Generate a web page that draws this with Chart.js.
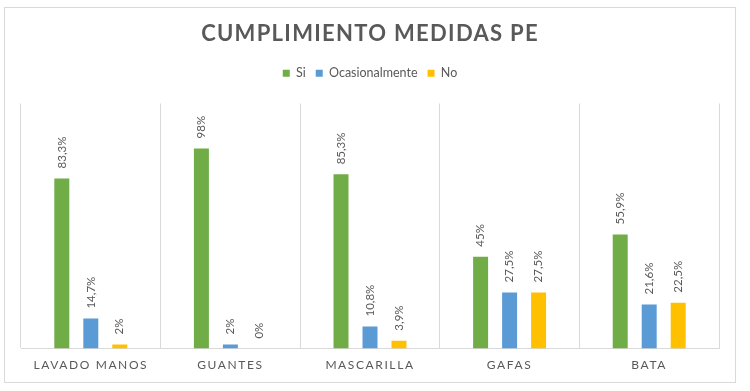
<!DOCTYPE html>
<html lang="es">
<head>
<meta charset="utf-8">
<title>Cumplimiento medidas PE</title>
<script src="https://cdn.jsdelivr.net/npm/chart.js@4/dist/chart.umd.min.js"></script>
<style>
  html, body { margin: 0; padding: 0; background: #fff; }
  #wrap { position: relative; width: 750px; height: 391px; }
</style>
</head>
<body>
<div id="wrap"><canvas id="chart" width="750" height="391"></canvas></div>
<script>
'use strict';

/* ── Data ─────────────────────────────────────────────────────────────── */
const CATEGORIES = ['LAVADO MANOS', 'GUANTES', 'MASCARILLA', 'GAFAS', 'BATA'];
const SI = [83.3, 98, 85.3, 45, 55.9];
const OCASIONAL = [14.7, 2, 10.8, 27.5, 21.6];
const NO = [2, 0, 3.9, 27.5, 22.5];
const SERIES_NAMES = ['Si', 'Ocasionalmente', 'No'];
const TITLE = 'CUMPLIMIENTO MEDIDAS PE';

const COLORS = { green: '#70AD47', blue: '#5B9BD5', gold: '#FFC000', text: '#595959', grid: '#D9D9D9' };
const FONT = 'Lato, "Open Sans", sans-serif';

const fmtPct = v => String(v).replace('.', ',') + '%';

/* ── Frame, title, value labels ───────────────────────────────────────── */
const decorPlugin = {
    id: 'decor',
    beforeDraw(chart) {
        const ctx = chart.ctx;
        ctx.letterSpacing = '0px';
        ctx.save();
        ctx.strokeStyle = COLORS.grid;
        ctx.lineWidth = 1;
        ctx.strokeRect(4.5, 7.5, 731, 375);
        ctx.restore();
    },
    afterDatasetsDraw(chart) {
        const ctx = chart.ctx;
        ctx.save();
        ctx.font = '11.5px ' + FONT;
        ctx.fillStyle = COLORS.text;
        ctx.textAlign = 'left';
        ctx.textBaseline = 'middle';
        chart.data.datasets.forEach((ds, i) => {
            chart.getDatasetMeta(i).data.forEach((bar, j) => {
                ctx.save();
                ctx.translate(bar.x, bar.y - 10);
                ctx.rotate(-Math.PI / 2);
                ctx.fillText(fmtPct(ds.data[j]), 0, 0);
                ctx.restore();
            });
        });
        ctx.restore();
        // x tick labels (z: 1) are drawn after this hook, letter-spaced
        ctx.letterSpacing = '1.6px';
    },
    afterDraw(chart) {
        const ctx = chart.ctx;
        ctx.save();
        ctx.letterSpacing = '1.3px';
        ctx.font = 'bold 22px ' + FONT;
        ctx.fillStyle = COLORS.text;
        ctx.textAlign = 'center';
        ctx.textBaseline = 'middle';
        ctx.fillText(TITLE, 370, 34);
        ctx.restore();
        ctx.letterSpacing = '0px';
    },
};

/* ── Chart ────────────────────────────────────────────────────────────── */
const barStyle = { categoryPercentage: 0.623, barPercentage: 0.517 };

new Chart(document.getElementById('chart').getContext('2d'), {
    type: 'bar',
    data: {
        labels: CATEGORIES,
        datasets: [
            { label: SERIES_NAMES[0], data: SI, backgroundColor: COLORS.green, ...barStyle },
            { label: SERIES_NAMES[1], data: OCASIONAL, backgroundColor: COLORS.blue, ...barStyle },
            { label: SERIES_NAMES[2], data: NO, backgroundColor: COLORS.gold, ...barStyle },
        ],
    },
    options: {
        responsive: false,
        animation: false,
        events: [],
        layout: { padding: { top: 57, left: 21, right: 31, bottom: 10 } },
        plugins: {
            legend: {
                position: 'top',
                labels: {
                    boxWidth: 7, boxHeight: 7, padding: 10,
                    color: COLORS.text,
                    font: { family: FONT, size: 12.5 },
                },
            },
            title: { display: false },
            tooltip: { enabled: false },
        },
        scales: {
            x: {
                grid: { display: true, offset: true, color: COLORS.grid, drawTicks: false },
                border: { display: true, color: COLORS.grid },
                ticks: { color: COLORS.text, font: { family: FONT, size: 12 }, padding: 9, z: 1, maxRotation: 0 },
            },
            xTop: {
                type: 'category',
                position: 'top',
                labels: CATEGORIES,
                grid: { display: false },
                border: { display: false },
                ticks: { display: false },
                afterFit: s => { s.height = 14; },
            },
            y: { display: false, min: 0, max: 120 },
        },
    },
    plugins: [decorPlugin],
});
</script>
</body>
</html>
